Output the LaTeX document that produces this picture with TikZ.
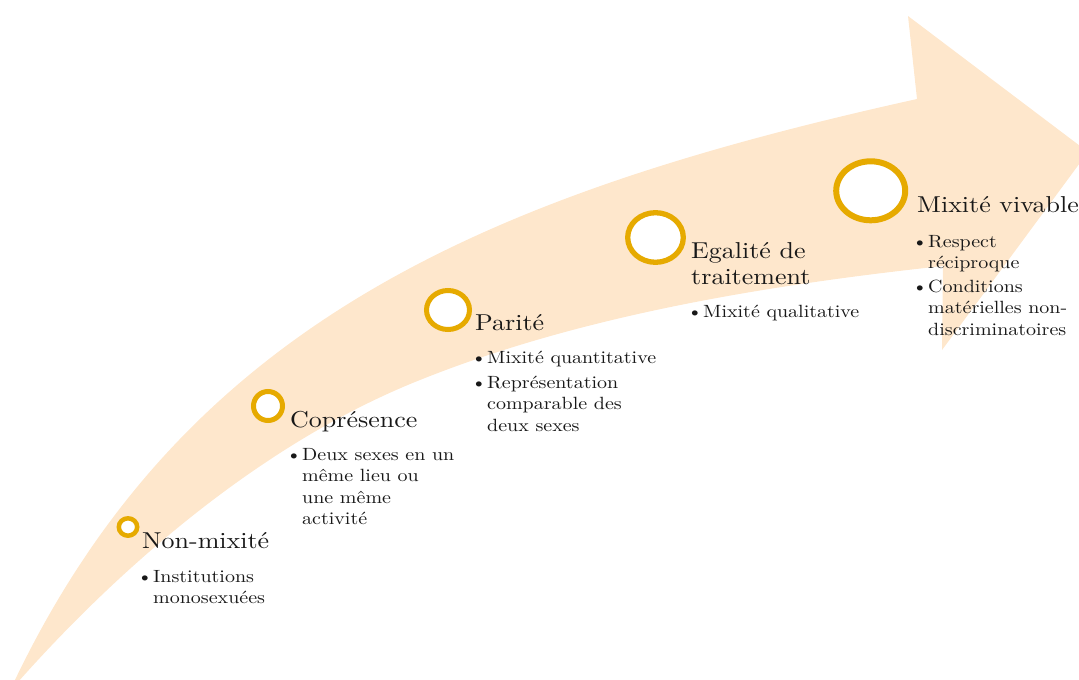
\documentclass[tikz,border=0pt]{standalone}
\usepackage{fontspec}
\setmainfont{lmroman10-regular.otf}[FakeStretch=1.13]
\definecolor{arrowfill}{RGB}{254,231,204}
\definecolor{ringcol}{RGB}{230,170,0}
\definecolor{ink}{RGB}{24,24,24}
\tikzset{
  head/.style={anchor=base west, inner sep=0pt, text=ink, font=\fontsize{23}{26}\selectfont, align=left},
  item/.style={anchor=base west, inner sep=0pt, text=ink, font=\fontsize{17.7}{21.5}\selectfont, align=left},
  dot/.style={anchor=base, inner sep=0pt, text=ink, font=\fontsize{17.7}{21.5}\selectfont},
  ringstyle/.style={draw=ringcol, fill=white, line width=5pt},
}
\begin{document}
\begin{tikzpicture}[x=1pt,y=-1pt]
\useasboundingbox (0,0) rectangle (1079,680);
\begin{scope}
\clip (0,0) rectangle (1079,680);
% arrow
\fill[arrowfill] (14,682) .. controls (186,322) and (488,194) .. (917,99)
  -- (908,16) -- (1088,152) -- (942,350) -- (943,266)
  .. controls (768,285) and (582,315) .. (420,380)
  .. controls (234,454) and (84.5,607) .. (18,682) -- cycle;
\end{scope}
% rings
\draw[ringstyle, line width=4.5pt] (128,527) ellipse [x radius=9.2, y radius=8.7];
\draw[ringstyle] (268,406) ellipse [x radius=14.5, y radius=14.5];
\draw[ringstyle] (448,310) ellipse [x radius=21.5, y radius=19.5];
\draw[ringstyle, line width=5.3pt] (655.5,237.5) ellipse [x radius=27.8, y radius=24.8];
\draw[ringstyle, line width=6pt] (870.7,190.8) ellipse [x radius=34.5, y radius=29.5];
% Non-mixite
\node[head] (h1) at (142,548) {Non-mixité};
\node[dot] (d1a) at (145,582) {\textbullet};
\node[item] (i1a) at (153,603.5) {Institutions\\monosexuées};
% Copresence
\node[head] (h2) at (290,427) {Coprésence};
\node[dot] (d2a) at (294,460) {\textbullet};
\node[item] (i2a) at (302,524.5) {Deux sexes en un\\même lieu ou\\une même\\activité};
% Parite
\node[head] (h3) at (475,330) {Parité};
\node[dot] (d3a) at (479,363) {\textbullet};
\node[item] (i3a) at (487,363) {Mixité quantitative};
\node[dot] (d3b) at (479,388) {\textbullet};
\node[item] (i3b) at (487,431) {Représentation\\comparable des\\deux sexes};
% Egalite
\node[head] (h4) at (691,284) {Egalité de\\traitement};
\node[dot] (d4a) at (695,317) {\textbullet};
\node[item] (i4a) at (703,317) {Mixité qualitative};
% Mixite vivable
\node[head] (h5) at (917,212) {Mixité vivable};
\node[dot] (d5a) at (920,247) {\textbullet};
\node[item] (i5a) at (928,268.5) {Respect\\réciproque};
\node[dot] (d5b) at (920,292) {\textbullet};
\node[item] (i5b) at (928,335) {Conditions\\matérielles non-\\discriminatoires};
\end{tikzpicture}
\end{document}
